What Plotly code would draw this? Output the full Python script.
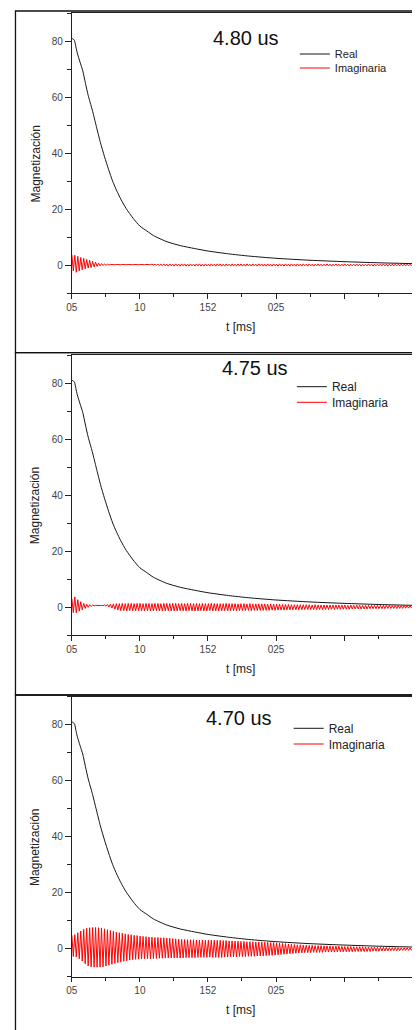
import plotly.graph_objects as go

# ---------------- data ----------------
panel_titles = ["4.80 us", "4.75 us", "4.70 us"]
series_names = ["Real", "Imaginaria"]

t_tick_vals = [0, 50, 100, 150, 200, 250]
t_tick_text = ["05", "10", "152", "025", "", ""]
y_tick_vals = [0, 20, 40, 60, 80]

# Real part (same decay in the three panels)
real_t = [0, 1, 2, 3, 4, 6, 8, 10, 12, 15, 18, 21, 24, 27, 30, 33, 36, 40, 45, 50,
          55, 60, 70, 80, 90, 100, 115, 130, 150, 175, 200, 225, 250]
real_1 = [81.0, 80.8, 80.2, 78.0, 75.8, 72.6, 69.5, 65.0, 60.7, 55.5, 49.6, 43.8, 38.8,
          34.2, 30.0, 26.6, 23.6, 20.2, 16.8, 14.0, 12.3, 10.6, 8.4, 7.0, 6.0, 5.1, 4.1,
          3.3, 2.5, 1.8, 1.3, 0.9, 0.6]
real_2 = [81.0, 80.8, 80.2, 78.0, 75.8, 72.6, 69.5, 65.0, 60.7, 55.5, 49.6, 43.8, 38.8,
          34.2, 30.0, 26.6, 23.6, 20.2, 16.8, 14.0, 12.3, 10.6, 8.4, 7.0, 6.0, 5.1, 4.1,
          3.3, 2.5, 1.8, 1.3, 0.9, 0.6]
real_3 = [81.0, 80.8, 80.2, 78.0, 75.8, 72.6, 69.5, 65.0, 60.7, 55.5, 49.6, 43.8, 38.8,
          34.2, 30.0, 26.6, 23.6, 20.2, 16.8, 14.0, 12.3, 10.6, 8.4, 7.0, 6.0, 5.1, 4.1,
          3.3, 2.5, 1.8, 1.3, 0.9, 0.6]

# Imaginary part: successive maxima / minima of each oscillation cycle
IMAG_T0 = 0.0      # ms, first sample
IMAG_DT = 1.09     # ms between successive extrema (half a cycle)

imag1_hi = [3.8, 3.6, 3.2, 2.8, 2.5, 2.1, 1.8, 1.4, 1.1, 0.8,
            0.6, 0.5, 0.4, 0.3, 0.3, 0.3, 0.3, 0.3, 0.3, 0.3,
            0.3, 0.3, 0.3, 0.3, 0.3, 0.3, 0.3, 0.4, 0.4, 0.4,
            0.4, 0.5, 0.4, 0.5, 0.4, 0.5, 0.4, 0.5, 0.5, 0.4,
            0.5, 0.4, 0.5, 0.5, 0.4, 0.5, 0.4, 0.5, 0.4, 0.5,
            0.5, 0.4, 0.5, 0.4, 0.5, 0.4, 0.5, 0.5, 0.4, 0.5,
            0.4, 0.5, 0.4, 0.5, 0.5, 0.4, 0.5, 0.4, 0.5, 0.4,
            0.5, 0.4, 0.5, 0.4, 0.5, 0.4, 0.5, 0.4, 0.5, 0.4,
            0.5, 0.4, 0.4, 0.5, 0.4, 0.4, 0.5, 0.4, 0.4, 0.5,
            0.4, 0.4, 0.5, 0.4, 0.4, 0.4, 0.5, 0.4, 0.4, 0.4,
            0.5, 0.4, 0.4, 0.4, 0.4, 0.5, 0.4, 0.4, 0.4, 0.4,
            0.4, 0.4, 0.4, 0.4, 0.4]
imag1_lo = [-2.0, -2.5, -2.0, -1.6, -1.3, -1.0, -0.8, -0.6, -0.4, -0.2,
            -0.1, 0.0, 0.1, 0.2, 0.2, 0.2, 0.2, 0.2, 0.2, 0.2,
            0.2, 0.2, 0.2, 0.2, 0.2, 0.2, 0.2, 0.1, 0.0, -0.1,
            -0.1, -0.2, -0.3, -0.2, -0.3, -0.2, -0.3, -0.2, -0.3, -0.3,
            -0.2, -0.3, -0.2, -0.3, -0.3, -0.2, -0.3, -0.2, -0.3, -0.2,
            -0.3, -0.3, -0.2, -0.3, -0.2, -0.3, -0.2, -0.3, -0.3, -0.2,
            -0.3, -0.2, -0.3, -0.2, -0.3, -0.3, -0.2, -0.3, -0.2, -0.3,
            -0.2, -0.3, -0.2, -0.3, -0.2, -0.3, -0.2, -0.3, -0.2, -0.3,
            -0.2, -0.3, -0.2, -0.2, -0.3, -0.2, -0.2, -0.3, -0.2, -0.2,
            -0.3, -0.2, -0.2, -0.3, -0.2, -0.2, -0.2, -0.3, -0.2, -0.2,
            -0.2, -0.3, -0.2, -0.2, -0.2, -0.2, -0.3, -0.2, -0.2, -0.2,
            -0.2, -0.2, -0.2, -0.2, -0.2]

imag2_hi = [3.0, 3.6, 2.6, 1.9, 1.3, 1.0, 0.8, 0.7, 0.6, 0.6,
            0.6, 0.7, 0.9, 1.0, 1.1, 1.2, 1.2, 1.3, 1.2, 1.3,
            1.3, 1.2, 1.3, 1.3, 1.2, 1.3, 1.3, 1.2, 1.3, 1.3,
            1.2, 1.3, 1.3, 1.2, 1.3, 1.3, 1.2, 1.3, 1.2, 1.3,
            1.3, 1.2, 1.3, 1.2, 1.3, 1.2, 1.2, 1.3, 1.2, 1.2,
            1.2, 1.2, 1.3, 1.2, 1.2, 1.2, 1.1, 1.2, 1.2, 1.1,
            1.2, 1.1, 1.1, 1.1, 1.1, 1.1, 1.0, 1.1, 1.0, 1.0,
            1.0, 0.9, 0.9, 0.9, 0.8, 0.8, 0.8, 0.8, 0.8, 0.8,
            0.8, 0.7, 0.8, 0.7, 0.7, 0.7, 0.7, 0.7, 0.7, 0.7,
            0.7, 0.7, 0.7, 0.6, 0.7, 0.6, 0.7, 0.6, 0.6, 0.6,
            0.6, 0.6, 0.6, 0.6, 0.6, 0.6, 0.6, 0.6, 0.5, 0.6,
            0.6, 0.5, 0.6, 0.5, 0.5]
imag2_lo = [-2.0, -2.1, -1.5, -1.0, -0.5, -0.1, 0.2, 0.4, 0.5, 0.5,
            0.5, 0.3, 0.0, -0.4, -0.8, -1.1, -1.3, -1.3, -1.4, -1.3,
            -1.4, -1.4, -1.3, -1.4, -1.4, -1.3, -1.4, -1.4, -1.3, -1.4,
            -1.4, -1.4, -1.3, -1.4, -1.4, -1.4, -1.3, -1.4, -1.4, -1.3,
            -1.4, -1.4, -1.4, -1.3, -1.4, -1.4, -1.3, -1.4, -1.4, -1.4,
            -1.4, -1.3, -1.4, -1.3, -1.3, -1.3, -1.3, -1.3, -1.3, -1.2,
            -1.3, -1.2, -1.2, -1.2, -1.2, -1.2, -1.2, -1.1, -1.2, -1.1,
            -1.1, -1.1, -1.0, -1.0, -1.0, -1.0, -1.0, -1.0, -0.9, -0.9,
            -0.9, -0.9, -0.9, -0.9, -0.9, -0.9, -0.9, -0.8, -0.9, -0.8,
            -0.8, -0.8, -0.8, -0.8, -0.7, -0.7, -0.7, -0.7, -0.7, -0.7,
            -0.6, -0.6, -0.6, -0.6, -0.6, -0.6, -0.5, -0.5, -0.5, -0.5,
            -0.5, -0.5, -0.4, -0.4, -0.4]

imag3_hi = [4.8, 5.0, 5.7, 6.3, 6.9, 7.3, 7.5, 7.6, 7.6, 7.5,
            7.4, 7.1, 6.8, 6.5, 6.2, 5.9, 5.7, 5.5, 5.3, 5.1,
            5.0, 4.8, 4.7, 4.5, 4.4, 4.3, 4.2, 4.1, 4.0, 4.0,
            3.9, 3.9, 3.8, 3.7, 3.6, 3.5, 3.4, 3.3, 3.3, 3.2,
            3.2, 3.2, 3.1, 3.1, 3.1, 3.0, 3.0, 3.0, 3.0, 3.0,
            3.0, 2.9, 2.9, 2.8, 2.8, 2.7, 2.7, 2.6, 2.6, 2.5,
            2.5, 2.5, 2.4, 2.4, 2.4, 2.3, 2.3, 2.2, 2.2, 2.1,
            2.0, 1.9, 1.8, 1.7, 1.6, 1.5, 1.4, 1.4, 1.3, 1.3,
            1.2, 1.2, 1.1, 1.1, 1.1, 1.0, 1.0, 1.0, 0.9, 0.9,
            0.9, 0.8, 0.8, 0.8, 0.8, 0.7, 0.7, 0.7, 0.7, 0.6,
            0.6, 0.6, 0.6, 0.5, 0.5, 0.5, 0.5, 0.4, 0.4, 0.4,
            0.4, 0.3, 0.3, 0.3, 0.3]
imag3_lo = [-2.8, -3.0, -3.6, -4.4, -5.4, -6.2, -6.5, -6.6, -6.6, -6.6,
            -6.5, -6.2, -5.9, -5.6, -5.3, -5.0, -4.8, -4.5, -4.3, -4.1,
            -3.9, -3.8, -3.7, -3.7, -3.6, -3.6, -3.6, -3.5, -3.5, -3.4,
            -3.4, -3.3, -3.3, -3.3, -3.3, -3.3, -3.3, -3.3, -3.2, -3.2,
            -3.2, -3.2, -3.1, -3.1, -3.1, -3.1, -3.0, -3.1, -3.1, -3.1,
            -3.1, -3.0, -3.0, -2.9, -2.9, -2.9, -2.8, -2.8, -2.8, -2.7,
            -2.7, -2.7, -2.6, -2.6, -2.6, -2.5, -2.4, -2.4, -2.3, -2.2,
            -2.1, -2.0, -1.9, -1.8, -1.7, -1.6, -1.5, -1.5, -1.4, -1.4,
            -1.4, -1.3, -1.3, -1.3, -1.3, -1.2, -1.2, -1.2, -1.2, -1.2,
            -1.1, -1.1, -1.1, -1.1, -1.1, -1.0, -1.0, -1.0, -1.0, -1.0,
            -1.0, -0.9, -0.9, -0.9, -0.8, -0.8, -0.8, -0.7, -0.7, -0.7,
            -0.7, -0.6, -0.6, -0.6, -0.6]

real_series = [real_1, real_2, real_3]
imag_hi = [imag1_hi, imag2_hi, imag3_hi]
imag_lo = [imag1_lo, imag2_lo, imag3_lo]


def alternate(hi, lo):
    out = []
    for h, l in zip(hi, lo):
        out.extend([h, l])
    return out


# ---------------- layout geometry (page pixels of the reference) ----------------
OFF = 8                     # the page body margin shifts the figure by 8 px
W, H = 412, 1022            # figure size so that it ends at the window edge
FONT = "Arial, 'Liberation Sans', sans-serif"
X_L, X_R = 66.7, 412.0
PLOT_TOPS = [13.3, 355.0, 696.7]
PLOT_H = 280.0
BOX_TOPS = [11.0, 352.7, 695.0]
TITLE_POS = [(243, 38), (252.7, 368), (236.7, 718)]
# legend: (left of line, row centre Real, row centre Imaginaria, font size)
LEGEND_POS = [(298, 54, 68, 11), (295, 386.7, 402.3, 12), (291.7, 728.3, 744, 12)]
AXIS_COL = "#222222"
TICK_FONT = dict(family=FONT, size=10, color="#444444")


def fx(px):
    return (px - OFF) / W


def fy(px):
    return 1 - (px - OFF) / H


fig = go.Figure()
layout = dict(
    width=W, height=H, margin=dict(l=0, r=0, t=0, b=0),
    paper_bgcolor="white", plot_bgcolor="white", showlegend=True,
    annotations=[], shapes=[],
)

x_dom = [fx(X_L), fx(X_R)]
legend_count = 0

for i in range(3):
    n = i + 1
    xid = "x" if n == 1 else f"x{n}"
    yid = "y" if n == 1 else f"y{n}"
    xkey = "xaxis" if n == 1 else f"xaxis{n}"
    ykey = "yaxis" if n == 1 else f"yaxis{n}"
    top_n, right_n = n + 3, n + 3
    y_dom = [fy(PLOT_TOPS[i] + PLOT_H), fy(PLOT_TOPS[i])]
    lx, ly_real, ly_imag, lfs = LEGEND_POS[i]

    lg_real = "legend" if legend_count == 0 else f"legend{legend_count + 1}"
    lg_imag = f"legend{legend_count + 2}"
    legend_count += 2

    fig.add_trace(go.Scatter(
        x=real_t, y=real_series[i], xaxis=xid, yaxis=yid, mode="lines",
        name=series_names[0], legend=lg_real,
        line=dict(color="#151515", width=1, shape="spline", smoothing=0.6),
        hoverinfo="skip"))
    fig.add_trace(go.Scatter(
        y=alternate(imag_hi[i], imag_lo[i]), x0=IMAG_T0, dx=IMAG_DT,
        xaxis=xid, yaxis=yid, mode="lines", name=series_names[1], legend=lg_imag,
        line=dict(color="#ff0000", width=1), hoverinfo="skip"))

    for lg, ly in ((lg_real, ly_real), (lg_imag, ly_imag)):
        layout[lg] = dict(
            x=fx(lx - 5), y=fy(ly), xanchor="left", yanchor="middle",
            bgcolor="rgba(0,0,0,0)", borderwidth=0,
            font=dict(family=FONT, size=lfs, color="#222222"), itemwidth=30)

    # bottom x axis (ticks outside, labels, frame)
    layout[xkey] = dict(
        domain=x_dom, anchor=yid, range=[0, 250], tickmode="array",
        tickvals=t_tick_vals, ticktext=t_tick_text,
        ticks="outside", ticklen=4.5, tickwidth=1, tickcolor=AXIS_COL, tickfont=TICK_FONT,
        showticklabels=True, showline=True, mirror=True, linecolor=AXIS_COL, linewidth=1,
        showgrid=False, zeroline=False,
        minor=dict(ticks="outside", ticklen=3, tick0=0, dtick=25, tickcolor=AXIS_COL, showgrid=False))
    # top x axis (ticks inside)
    layout[f"xaxis{top_n}"] = dict(
        domain=x_dom, anchor=yid, overlaying=xid, side="top", range=[0, 250],
        tickmode="linear", tick0=0, dtick=50, ticks="inside", ticklen=4, tickwidth=1,
        tickcolor=AXIS_COL, showticklabels=False, showline=False, showgrid=False, zeroline=False,
        minor=dict(ticks="inside", ticklen=2.5, tick0=0, dtick=25, tickcolor=AXIS_COL, showgrid=False))
    # left y axis
    layout[ykey] = dict(
        domain=y_dom, anchor=xid, range=[-10, 90], tickmode="array", tickvals=y_tick_vals,
        ticks="outside", ticklen=6, tickwidth=1, tickcolor=AXIS_COL, tickfont=TICK_FONT,
        showline=True, mirror=True, linecolor=AXIS_COL, linewidth=1, showgrid=False, zeroline=False,
        minor=dict(ticks="outside", ticklen=4, tick0=0, dtick=10, tickcolor=AXIS_COL, showgrid=False))
    # right y axis (ticks inside)
    layout[f"yaxis{right_n}"] = dict(
        domain=y_dom, anchor=xid, overlaying=yid, side="right", range=[-10, 90],
        tickmode="linear", tick0=0, dtick=10, ticks="inside", ticklen=5, tickwidth=1,
        tickcolor=AXIS_COL, showticklabels=False, showline=False, showgrid=False, zeroline=False)

    # panel title
    tx, ty = TITLE_POS[i]
    layout["annotations"].append(dict(
        text=panel_titles[i], x=fx(tx), y=fy(ty), xref="paper", yref="paper",
        xanchor="center", yanchor="middle", showarrow=False,
        font=dict(family=FONT, size=20, color="#111111")))
    # axis titles
    layout["annotations"].append(dict(
        text="Magnetización", x=fx(30), y=fy(PLOT_TOPS[i] + PLOT_H / 2 + 10.5),
        xref="paper", yref="paper", xanchor="center", yanchor="middle", textangle=-90,
        showarrow=False, font=dict(family=FONT, size=12, color="#222222")))
    layout["annotations"].append(dict(
        text="t [ms]", x=fx(238), y=fy(PLOT_TOPS[i] + PLOT_H + 33.5),
        xref="paper", yref="paper", xanchor="center", yanchor="middle",
        showarrow=False, font=dict(family=FONT, size=12, color="#222222")))

    # outer frame of each panel
    bottom = BOX_TOPS[i + 1] if i < 2 else 1060
    layout["shapes"].append(dict(
        type="rect", xref="paper", yref="paper", x0=fx(9.5), x1=1.05,
        y0=fy(bottom), y1=fy(BOX_TOPS[i]), line=dict(color="#111111", width=1.3),
        fillcolor="rgba(0,0,0,0)", layer="below"))

fig.update_layout(**layout)
fig.write_html("out.html")
